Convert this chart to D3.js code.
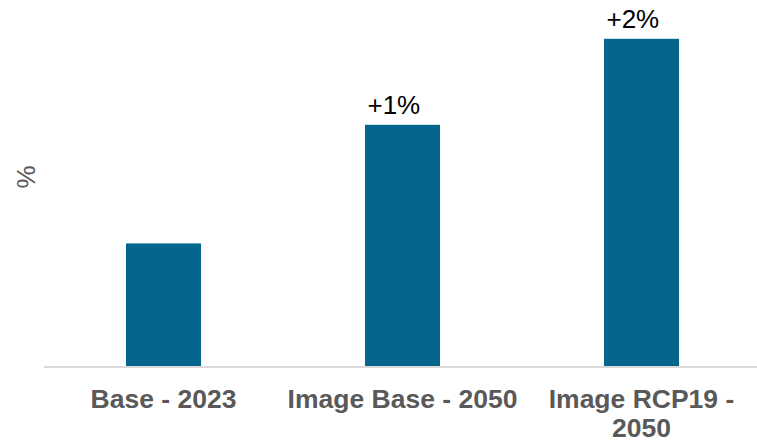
<!DOCTYPE html>
<html><head><meta charset="utf-8">
<script src="https://cdn.jsdelivr.net/npm/d3@7"></script>
<style>body{margin:0;background:#fff}svg{display:block}</style>
</head><body>
<script>
const categories = [["Base - 2023"], ["Image Base - 2050"], ["Image RCP19 -", "2050"]];
const values = [1.24, 2.44, 3.31];
const changeLabels = ["", "+1%", "+2%"];
const yLabel = "%";

const W = 757, H = 441;
const svg = d3.select("body").append("svg").attr("width", W).attr("height", H);
const font = "Liberation Sans, Arial, sans-serif";

const x = d3.scaleBand().domain(d3.range(categories.length)).range([44, 761])
  .paddingInner(0.686).paddingOuter(0.343);
const y = d3.scaleLinear().domain([0, 3.5]).range([366, 20]);

svg.selectAll("rect.bar").data(values).enter().append("rect")
  .attr("class", "bar")
  .attr("x", (d, i) => x(i)).attr("width", x.bandwidth())
  .attr("y", d => y(d)).attr("height", d => y(0) - y(d))
  .attr("fill", "#04668c");

svg.append("line").attr("x1", 44).attr("x2", W).attr("y1", y(0) + 1).attr("y2", y(0) + 1)
  .attr("stroke", "#d9d9d9").attr("stroke-width", 2);

svg.selectAll("text.val").data(values).enter().append("text")
  .attr("class", "val")
  .attr("x", (d, i) => x(i) + 2.5)
  .attr("y", d => y(d) - 11)
  .attr("text-anchor", "start")
  .attr("font-family", font).attr("font-size", 26).attr("fill", "#000")
  .text((d, i) => changeLabels[i]);

const cat = svg.selectAll("text.cat").data(categories).enter().append("text")
  .attr("class", "cat")
  .attr("text-anchor", "middle")
  .attr("font-family", font).attr("font-size", 26.5).attr("font-weight", "bold")
  .attr("fill", "#595959");
cat.each(function(lines, i) {
  const t = d3.select(this);
  lines.forEach((l, j) => {
    t.append("tspan").attr("x", x(i) + x.bandwidth() / 2).attr("y", 408 + j * 28.5).text(l);
  });
});

svg.append("text")
  .attr("transform", "translate(35,177) rotate(-90)")
  .attr("text-anchor", "middle")
  .attr("font-family", font).attr("font-size", 26).attr("fill", "#595959")
  .text(yLabel);
</script>
</body></html>
